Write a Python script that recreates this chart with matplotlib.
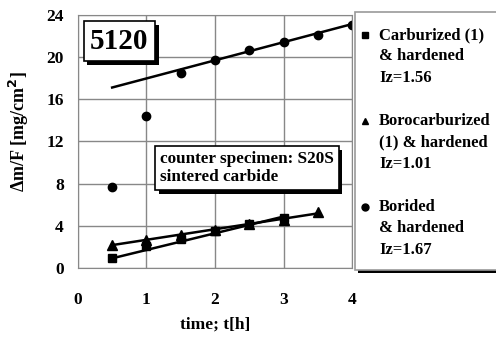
import matplotlib
matplotlib.use('Agg')
import matplotlib.pyplot as plt
import matplotlib.patheffects as pe
from matplotlib.patches import Rectangle
from matplotlib.lines import Line2D

plt.rcParams['font.family'] = ['Liberation Serif', 'DejaVu Serif']
plt.rcParams['font.weight'] = 'bold'

# data
t_carb = [0.5, 1.0, 1.5, 2.0, 2.5, 3.0]
m_carb = [1.0, 2.1, 2.8, 3.5, 4.2, 4.8]
t_boroc = [0.5, 1.0, 1.5, 2.0, 2.5, 3.0, 3.5]
m_boroc = [2.2, 2.7, 3.2, 3.6, 4.2, 4.6, 5.3]
t_bor = [0.5, 1.0, 1.5, 2.0, 2.5, 3.0, 3.5, 4.0]
m_bor = [7.7, 14.4, 18.5, 19.7, 20.6, 21.4, 22.1, 23.0]

# trend lines (start/end of each fitted line)
trend_carb_t = [0.5, 3.0]
trend_carb_m = [0.95, 4.9]
trend_boroc_t = [0.5, 3.5]
trend_boroc_m = [2.2, 5.2]
trend_bor_t = [0.5, 4.0]
trend_bor_m = [17.1, 23.1]

labels = ['Carburized (1)\n& hardened\nIz=1.56',
          'Borocarburized\n(1) & hardened\nIz=1.01',
          'Borided\n& hardened\nIz=1.67']
markers = ['s', '^', 'o']

shadow = [pe.SimplePatchShadow(offset=(2.5, -2.5), shadow_rgbFace='black', alpha=1.0),
          pe.Normal()]

fig = plt.figure(figsize=(4.96, 3.38), dpi=100)
ax = fig.add_axes([0.157, 0.206, 0.553, 0.751])

ax.plot(trend_carb_t, trend_carb_m, color='black', lw=1.8)
ax.plot(trend_boroc_t, trend_boroc_m, color='black', lw=1.8)
ax.plot(trend_bor_t, trend_bor_m, color='black', lw=1.8)
ax.plot(t_carb, m_carb, 's', color='black', ms=6)
ax.plot(t_boroc, m_boroc, '^', color='black', ms=7)
ax.plot(t_bor, m_bor, 'o', color='black', ms=6)

ax.set_xlim(0, 4)
ax.set_ylim(0, 24)
ax.set_xticks([0, 1, 2, 3, 4])
ax.set_yticks([0, 4, 8, 12, 16, 20, 24])
ax.grid(True, color='#888888', lw=1)
for s in ax.spines.values():
    s.set_color('#888888')
ax.tick_params(length=0, labelsize=12.5)
ax.tick_params(axis='x', pad=17)
ax.tick_params(axis='y', pad=10)
ax.set_xlabel('time; t[h]', fontsize=12.5, fontweight='bold')
ax.xaxis.set_label_coords(0.5, -0.19)
ax.set_ylabel('Δm/F [mg/cm$^\\mathbf{2}$]', fontsize=13, fontweight='bold')
ax.yaxis.set_label_coords(-0.17, 0.537)

t1 = ax.text(0.045, 0.895, '5120', transform=ax.transAxes, fontsize=21,
             fontweight='bold', va='center', ha='left',
             bbox=dict(boxstyle='square,pad=0.22', fc='white', ec='black', lw=1.2))
t1.get_bbox_patch().set_path_effects(shadow)
t2 = ax.text(0.3, 0.395, 'counter specimen: S20S\nsintered carbide',
             transform=ax.transAxes, fontsize=12.3, fontweight='bold',
             va='center', ha='left', linespacing=1.2,
             bbox=dict(boxstyle='square,pad=0.28', fc='white', ec='black', lw=1.2))
t2.get_bbox_patch().set_path_effects(shadow)

# legend box drawn by hand (marker sits on the first line of each entry)
box = Rectangle((0.716, 0.2), 0.3, 0.765, transform=fig.transFigure,
                fc='white', ec='#999999', lw=1.2, zorder=3)
box.set_path_effects([pe.SimplePatchShadow(offset=(2, -2), shadow_rgbFace='black', alpha=1.0),
                      pe.Normal()])
fig.add_artist(box)
y0 = 1 - 35 / 338
for i, (lab, mk) in enumerate(zip(labels, markers)):
    y = y0 - i * 86 / 338
    fig.add_artist(Line2D([0.736], [y], marker=mk, color='black', ms=5,
                          transform=fig.transFigure, zorder=4))
    for j, line in enumerate(lab.split('\n')):
        fig.text(0.764, y - j * 21.5 / 338, line, fontsize=12, fontweight='bold',
                 va='center', ha='left', zorder=5)

fig.savefig('out.png', dpi=100)
